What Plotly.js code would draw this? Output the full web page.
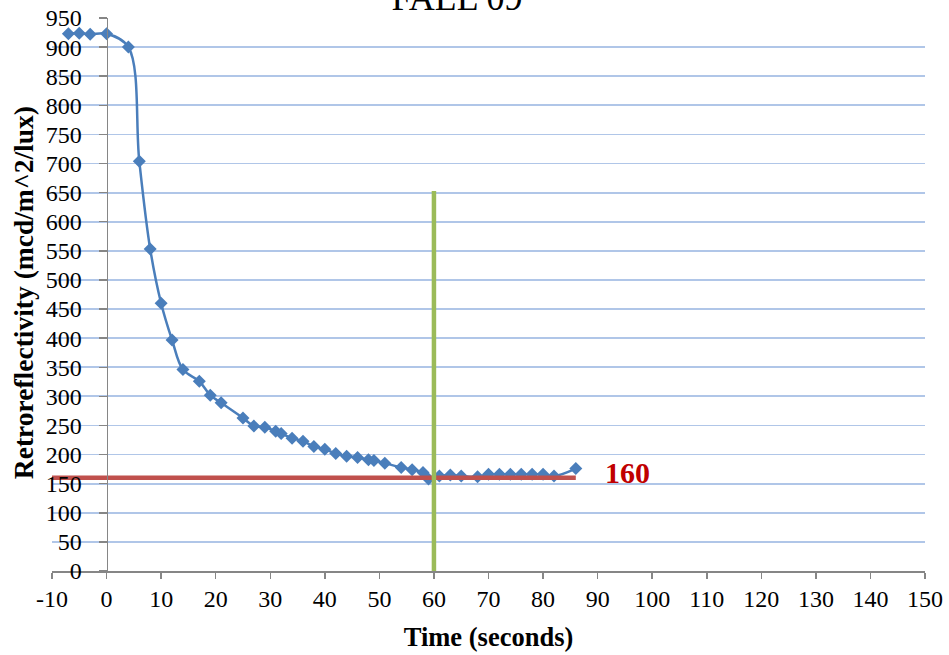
<!DOCTYPE html>
<html>
<head>
<meta charset="utf-8">
<script src="https://cdn.plot.ly/plotly-3.0.1.min.js"></script>
<style>html,body{margin:0;padding:0;background:#fff;}#chart{width:949px;height:655px;}</style>
</head>
<body>
<div id="chart"></div>
<script>
// Data
const timeSeconds = [-7, -5, -3, 0, 4, 6, 8, 10, 12, 14, 17, 19, 21, 25, 27, 29, 31, 32, 34, 36, 38, 40, 42, 44, 46, 48, 49, 51, 54, 56, 58, 59, 61, 63, 65, 68, 70, 72, 74, 76, 78, 80, 82, 86];
const retroValues = [923, 924, 922, 923, 900, 704, 553, 460, 397, 346, 326, 302, 289, 263, 249, 247, 240, 236, 228, 223, 214, 209, 202, 197, 195, 191, 190, 185, 178, 174, 169, 158, 163, 165, 163, 162, 166, 166, 166, 166, 166, 166, 163, 176];
const thresholdX = [-10, 86];
const thresholdY = [160, 160];
const markerLineX = [60, 60];
const markerLineY = [0, 653];
const thresholdLabel = "160";
const xTickVals = [-10, 0, 10, 20, 30, 40, 50, 60, 70, 80, 90, 100, 110, 120, 130, 140, 150];
const yTickVals = [0, 50, 100, 150, 200, 250, 300, 350, 400, 450, 500, 550, 600, 650, 700, 750, 800, 850, 900, 950];

const serif = "'Liberation Serif', 'Times New Roman', serif";

const traces = [
  {
    x: timeSeconds, y: retroValues, type: 'scatter', mode: 'lines+markers',
    line: {color: '#4A7EBB', width: 2.5, shape: 'spline', smoothing: 1},
    marker: {symbol: 'diamond', size: 10, color: '#4A7EBB', line: {width: 0}},
    showlegend: false, hoverinfo: 'x+y'
  },
  {
    x: thresholdX, y: thresholdY, type: 'scatter', mode: 'lines',
    line: {color: '#C0504D', width: 4.5}, showlegend: false
  },
  {
    x: markerLineX, y: markerLineY, type: 'scatter', mode: 'lines',
    line: {color: '#9BBB59', width: 4.5}, showlegend: false
  }
];

const layout = {
  width: 949, height: 655,
  paper_bgcolor: '#ffffff', plot_bgcolor: '#ffffff',
  margin: {l: 52, r: 24, t: 18, b: 84},
  font: {family: serif, color: '#000000'},
  title: {
    text: 'FALL 09', font: {family: serif, size: 36, color: '#000000'},
    x: 457 / 949, xanchor: 'center', xref: 'container',
    y: 1 - 10 / 655, yanchor: 'bottom', yref: 'container'
  },
  xaxis: {
    range: [-10, 150], tickvals: xTickVals, ticktext: xTickVals.map(String),
    showgrid: false, zeroline: false,
    showline: true, linecolor: '#868686', linewidth: 1.5,
    ticks: 'outside', ticklen: 6, tickcolor: '#868686', tickwidth: 1.5,
    tickfont: {family: serif, size: 24, color: '#000000'},
    title: {text: 'Time (seconds)', font: {family: serif, size: 26.5, color: '#000000', weight: 'bold'}, standoff: 16},
    fixedrange: true
  },
  yaxis: {
    range: [0, 950], tickvals: yTickVals, ticktext: yTickVals.map(String),
    anchor: 'free', position: 10 / 160,
    showgrid: true, gridcolor: '#B0C6E8', gridwidth: 1.75, zeroline: false,
    showline: true, linecolor: '#868686', linewidth: 1.5,
    ticks: 'outside', ticklen: 8, tickcolor: '#868686', tickwidth: 1.5,
    ticklabelstandoff: 12,
    tickfont: {family: serif, size: 24, color: '#000000'},
    fixedrange: true
  },
  annotations: [
    {
      text: 'Retroreflectivity (mcd/m^2/lux)', textangle: -90,
      xref: 'paper', yref: 'paper', x: (23 - 52) / 873, y: (570.7 - 293) / 552.7,
      xanchor: 'center', yanchor: 'middle', showarrow: false,
      font: {family: serif, size: 27.5, color: '#000000', weight: 'bold'}
    },
    {
      text: thresholdLabel, xref: 'x', yref: 'y', x: 95.5, y: 170,
      xanchor: 'center', yanchor: 'middle', showarrow: false,
      font: {family: serif, size: 30, color: '#C00000', weight: 'bold'}
    }
  ]
};

Plotly.newPlot('chart', traces, layout, {displayModeBar: false, staticPlot: true});
</script>
</body>
</html>
